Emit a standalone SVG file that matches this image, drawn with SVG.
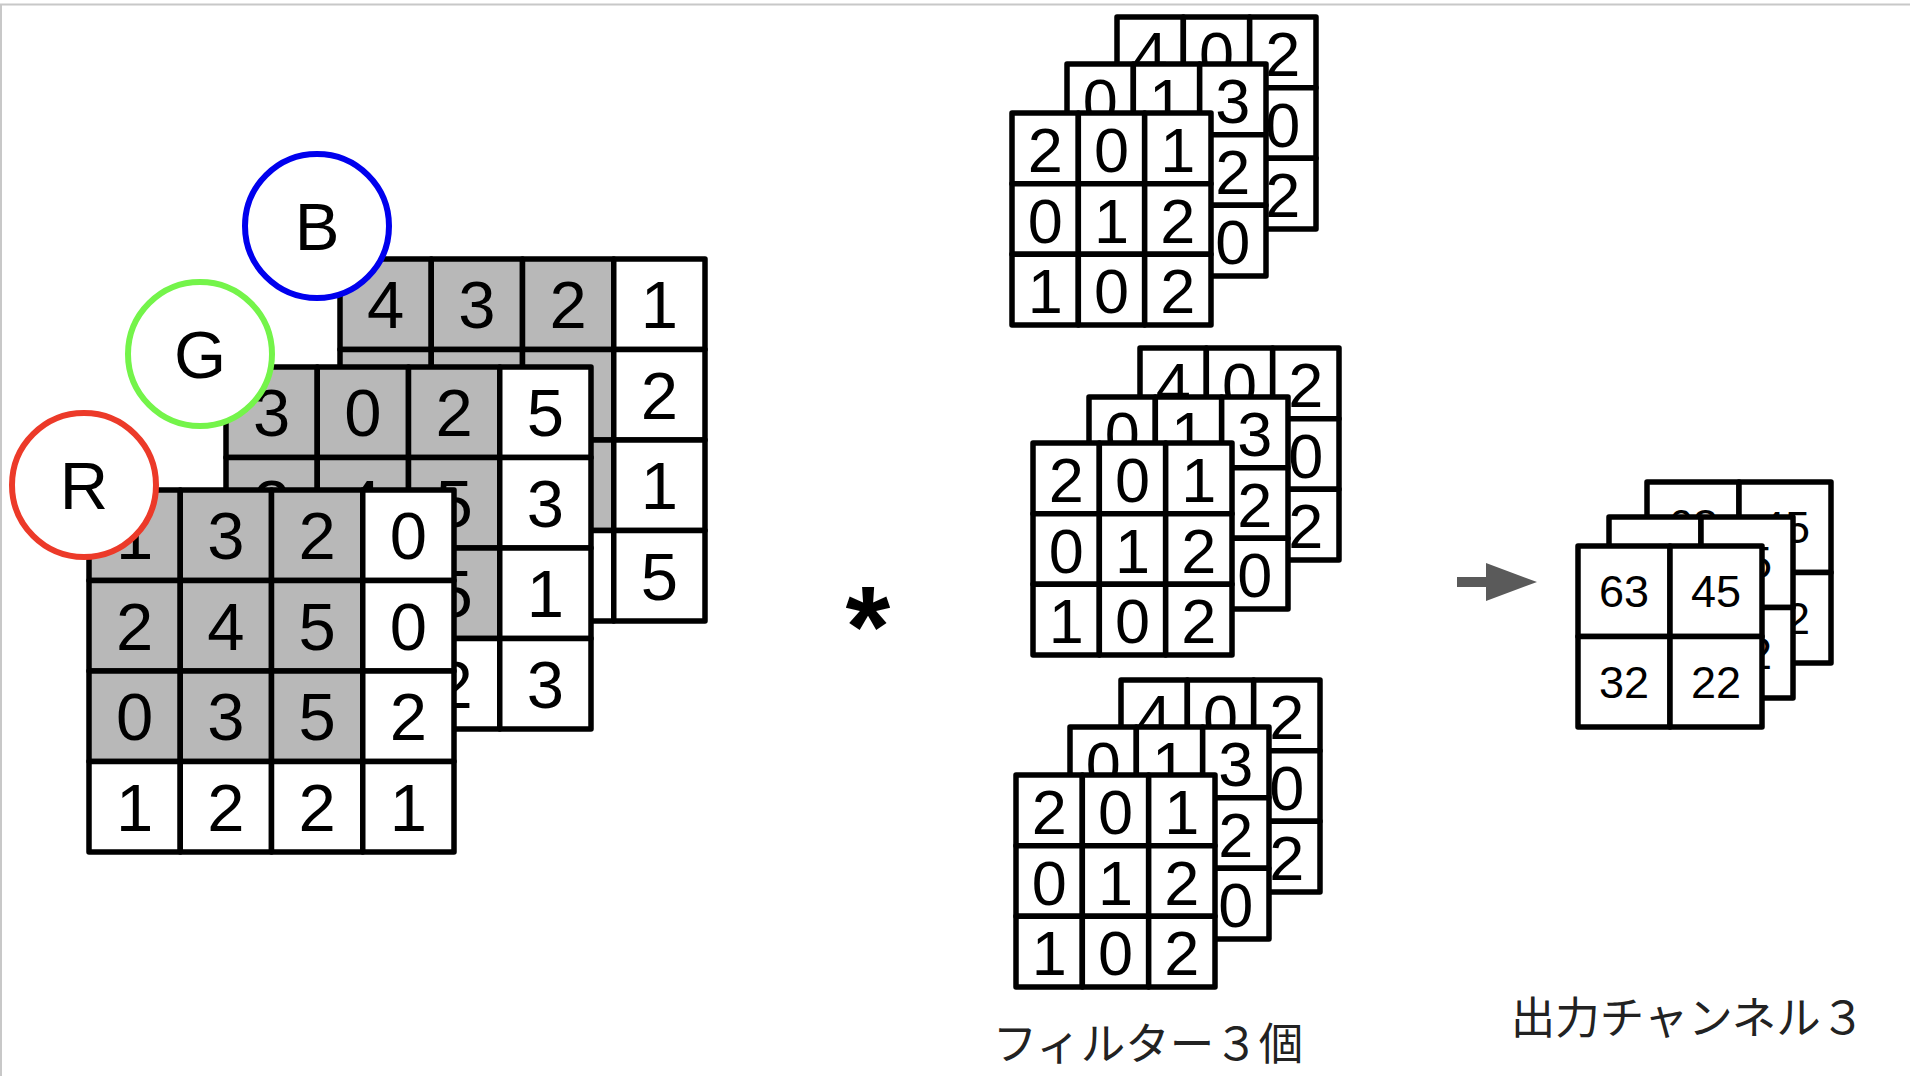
<svg xmlns="http://www.w3.org/2000/svg" width="1910" height="1076" viewBox="0 0 1910 1076">
<style>
.c{fill:#fff;stroke:#000;stroke-width:5.5;stroke-linejoin:round}
.g{fill:#b8b8b8;stroke:#000;stroke-width:5.5;stroke-linejoin:round}
.n{font-family:"Liberation Sans",Arial,sans-serif;font-size:67px;text-anchor:middle;fill:#000}
.f{font-size:63px}
.o{font-size:45px}
.ring{fill:#fff;stroke-width:6}
.lbl{font-family:"Noto Sans CJK JP","Noto Sans",sans-serif;font-size:44.5px;text-anchor:middle;fill:#222}
</style>
<rect x="0" y="0" width="1910" height="1076" fill="#fff"/>
<path d="M0 4.5H1910M1 4V1076" stroke="#c8c8c8" stroke-width="2" fill="none"/>

<!-- Input channel B -->
<g id="grid-B" transform="translate(340,259)">
<rect class="g" x="0" y="0" width="91.25" height="90.5"/><rect class="g" x="91.25" y="0" width="91.25" height="90.5"/><rect class="g" x="182.5" y="0" width="91.25" height="90.5"/><rect class="c" x="273.75" y="0" width="91.25" height="90.5"/>
<rect class="g" x="0" y="90.5" width="91.25" height="90.5"/><rect class="g" x="91.25" y="90.5" width="91.25" height="90.5"/><rect class="g" x="182.5" y="90.5" width="91.25" height="90.5"/><rect class="c" x="273.75" y="90.5" width="91.25" height="90.5"/>
<rect class="g" x="0" y="181" width="91.25" height="90.5"/><rect class="g" x="91.25" y="181" width="91.25" height="90.5"/><rect class="g" x="182.5" y="181" width="91.25" height="90.5"/><rect class="c" x="273.75" y="181" width="91.25" height="90.5"/>
<rect class="c" x="0" y="271.5" width="91.25" height="90.5"/><rect class="c" x="91.25" y="271.5" width="91.25" height="90.5"/><rect class="c" x="182.5" y="271.5" width="91.25" height="90.5"/><rect class="c" x="273.75" y="271.5" width="91.25" height="90.5"/>
<text class="n" x="45.6" y="69">4</text><text class="n" x="136.9" y="69">3</text><text class="n" x="228.1" y="69">2</text><text class="n" x="319.4" y="69">1</text>
<text class="n" x="319.4" y="159.5">2</text><text class="n" x="319.4" y="250">1</text><text class="n" x="319.4" y="340.5">5</text>
</g>
<g id="label-B"><circle class="ring" cx="317" cy="226" r="72" stroke="#0000ee"/><text class="n" x="317" y="250">B</text></g>

<!-- Input channel G -->
<g id="grid-G" transform="translate(226,367)">
<rect class="g" x="0" y="0" width="91.25" height="90.5"/><rect class="g" x="91.25" y="0" width="91.25" height="90.5"/><rect class="g" x="182.5" y="0" width="91.25" height="90.5"/><rect class="c" x="273.75" y="0" width="91.25" height="90.5"/>
<rect class="g" x="0" y="90.5" width="91.25" height="90.5"/><rect class="g" x="91.25" y="90.5" width="91.25" height="90.5"/><rect class="g" x="182.5" y="90.5" width="91.25" height="90.5"/><rect class="c" x="273.75" y="90.5" width="91.25" height="90.5"/>
<rect class="g" x="0" y="181" width="91.25" height="90.5"/><rect class="g" x="91.25" y="181" width="91.25" height="90.5"/><rect class="g" x="182.5" y="181" width="91.25" height="90.5"/><rect class="c" x="273.75" y="181" width="91.25" height="90.5"/>
<rect class="c" x="0" y="271.5" width="91.25" height="90.5"/><rect class="c" x="91.25" y="271.5" width="91.25" height="90.5"/><rect class="c" x="182.5" y="271.5" width="91.25" height="90.5"/><rect class="c" x="273.75" y="271.5" width="91.25" height="90.5"/>
<text class="n" x="45.6" y="69">3</text><text class="n" x="136.9" y="69">0</text><text class="n" x="228.1" y="69">2</text><text class="n" x="319.4" y="69">5</text>
<text class="n" x="45.6" y="159.5">2</text><text class="n" x="136.9" y="159.5">4</text><text class="n" x="228.1" y="159.5">5</text><text class="n" x="319.4" y="159.5">3</text>
<text class="n" x="228.1" y="250">5</text><text class="n" x="319.4" y="250">1</text>
<text class="n" x="228.1" y="340.5">2</text><text class="n" x="319.4" y="340.5">3</text>
</g>
<g id="label-G"><circle class="ring" cx="200" cy="354" r="72" stroke="#74f44a"/><text class="n" x="200" y="378">G</text></g>

<!-- Input channel R -->
<g id="grid-R" transform="translate(89,490)">
<rect class="g" x="0" y="0" width="91.25" height="90.5"/><rect class="g" x="91.25" y="0" width="91.25" height="90.5"/><rect class="g" x="182.5" y="0" width="91.25" height="90.5"/><rect class="c" x="273.75" y="0" width="91.25" height="90.5"/>
<rect class="g" x="0" y="90.5" width="91.25" height="90.5"/><rect class="g" x="91.25" y="90.5" width="91.25" height="90.5"/><rect class="g" x="182.5" y="90.5" width="91.25" height="90.5"/><rect class="c" x="273.75" y="90.5" width="91.25" height="90.5"/>
<rect class="g" x="0" y="181" width="91.25" height="90.5"/><rect class="g" x="91.25" y="181" width="91.25" height="90.5"/><rect class="g" x="182.5" y="181" width="91.25" height="90.5"/><rect class="c" x="273.75" y="181" width="91.25" height="90.5"/>
<rect class="c" x="0" y="271.5" width="91.25" height="90.5"/><rect class="c" x="91.25" y="271.5" width="91.25" height="90.5"/><rect class="c" x="182.5" y="271.5" width="91.25" height="90.5"/><rect class="c" x="273.75" y="271.5" width="91.25" height="90.5"/>
<text class="n" x="45.6" y="69">1</text><text class="n" x="136.9" y="69">3</text><text class="n" x="228.1" y="69">2</text><text class="n" x="319.4" y="69">0</text>
<text class="n" x="45.6" y="159.5">2</text><text class="n" x="136.9" y="159.5">4</text><text class="n" x="228.1" y="159.5">5</text><text class="n" x="319.4" y="159.5">0</text>
<text class="n" x="45.6" y="250">0</text><text class="n" x="136.9" y="250">3</text><text class="n" x="228.1" y="250">5</text><text class="n" x="319.4" y="250">2</text>
<text class="n" x="45.6" y="340.5">1</text><text class="n" x="136.9" y="340.5">2</text><text class="n" x="228.1" y="340.5">2</text><text class="n" x="319.4" y="340.5">1</text>
</g>
<g id="label-R"><circle class="ring" cx="84" cy="485" r="72" stroke="#ec3a29"/><text class="n" x="84" y="509">R</text></g>

<g id="op-conv"><text x="868" y="666" font-family="Liberation Sans,Arial,sans-serif" font-weight="bold" font-size="115" text-anchor="middle" fill="#000">*</text></g>

<defs>
<g id="fcells">
<rect class="c" x="0" y="0" width="66.33" height="70.67"/><rect class="c" x="66.33" y="0" width="66.33" height="70.67"/><rect class="c" x="132.67" y="0" width="66.33" height="70.67"/>
<rect class="c" x="0" y="70.67" width="66.33" height="70.67"/><rect class="c" x="66.33" y="70.67" width="66.33" height="70.67"/><rect class="c" x="132.67" y="70.67" width="66.33" height="70.67"/>
<rect class="c" x="0" y="141.33" width="66.33" height="70.67"/><rect class="c" x="66.33" y="141.33" width="66.33" height="70.67"/><rect class="c" x="132.67" y="141.33" width="66.33" height="70.67"/>
</g>
<g id="fback">
<use href="#fcells"/>
<text class="n f" x="33.2" y="58.8">4</text><text class="n f" x="99.5" y="58.8">0</text><text class="n f" x="165.8" y="58.8">2</text>
<text class="n f" x="165.8" y="129.5">0</text><text class="n f" x="165.8" y="200.2">2</text>
</g>
<g id="fmid">
<use href="#fcells"/>
<text class="n f" x="33.2" y="58.8">0</text><text class="n f" x="99.5" y="58.8">1</text><text class="n f" x="165.8" y="58.8">3</text>
<text class="n f" x="165.8" y="129.5">2</text><text class="n f" x="165.8" y="200.2">0</text>
</g>
<g id="ffront">
<use href="#fcells"/>
<text class="n f" x="33.2" y="58.8">2</text><text class="n f" x="99.5" y="58.8">0</text><text class="n f" x="165.8" y="58.8">1</text>
<text class="n f" x="33.2" y="129.5">0</text><text class="n f" x="99.5" y="129.5">1</text><text class="n f" x="165.8" y="129.5">2</text>
<text class="n f" x="33.2" y="200.2">1</text><text class="n f" x="99.5" y="200.2">0</text><text class="n f" x="165.8" y="200.2">2</text>
</g>
<g id="ocells">
<rect class="c" x="0" y="0" width="92" height="90.5"/><rect class="c" x="92" y="0" width="92" height="90.5"/>
<rect class="c" x="0" y="90.5" width="92" height="90.5"/><rect class="c" x="92" y="90.5" width="92" height="90.5"/>
</g>
</defs>

<g id="filter-1">
<use href="#fback" x="1117" y="17"/>
<use href="#fmid" x="1067" y="64"/>
<use href="#ffront" x="1012" y="113"/>
</g>
<g id="filter-2">
<use href="#fback" x="1140" y="348"/>
<use href="#fmid" x="1089" y="397"/>
<use href="#ffront" x="1033" y="443"/>
</g>
<g id="filter-3">
<use href="#fback" x="1121" y="680"/>
<use href="#fmid" x="1070" y="727"/>
<use href="#ffront" x="1016" y="775"/>
</g>
<g id="label-filters"><text class="lbl" x="1148" y="1060">フィルター３個</text></g>

<g id="connectors">
<path d="M1457 577H1486V563L1537 582L1486 601V587H1457Z" fill="#5a5a5a"/>
</g>

<g id="output">
<g transform="translate(1647,482)"><use href="#ocells"/><text class="n o" x="46" y="59">63</text><text class="n o" x="138" y="61">45</text><text class="n o" x="138" y="151.5">22</text></g>
<g transform="translate(1609,517)"><use href="#ocells"/><text class="n o" x="138" y="61">45</text><text class="n o" x="138" y="151.5">22</text></g>
<g transform="translate(1578,546)"><use href="#ocells"/><text class="n o" x="46" y="61">63</text><text class="n o" x="138" y="61">45</text><text class="n o" x="46" y="151.5">32</text><text class="n o" x="138" y="151.5">22</text></g>
</g>
<g id="label-output"><text class="lbl" x="1688" y="1034">出力チャンネル３</text></g>
</svg>
